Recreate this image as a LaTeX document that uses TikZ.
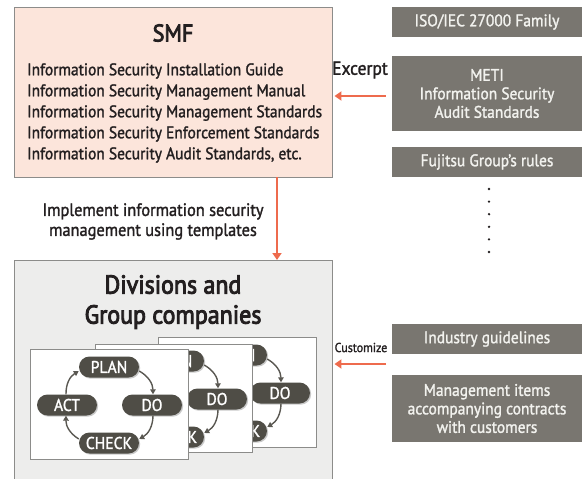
\documentclass[tikz,border=0pt]{standalone}
\usepackage{fontspec}
\setmainfont{PT Sans}[FakeStretch=0.92, FakeBold=1.5]
\newfontfamily\headfont{PT Sans}[FakeStretch=0.92, FakeBold=3.5]
\usetikzlibrary{arrows.meta,shadows}
\definecolor{smffill}{HTML}{FCE5DB}
\definecolor{divfill}{HTML}{EDEDEC}
\definecolor{framec}{HTML}{8C8C8A}
\definecolor{srcfill}{HTML}{797670}
\definecolor{srctext}{HTML}{F2F2EE}
\definecolor{pillc}{HTML}{4F4D46}
\definecolor{cycc}{HTML}{5A5852}
\definecolor{arrc}{HTML}{EE6B4D}
\definecolor{inkc}{HTML}{231F20}
\tikzset{
  panel/.style={draw=framec, line width=0.9pt},
  source/.style={fill=srcfill, text=srctext, inner sep=0pt, align=center,
    minimum width=190pt, font=\fontsize{16.8}{18.5}\selectfont},
  card/.style={draw=framec, fill=white, line width=0.9pt},
  pill/.style={fill=pillc, text=white, rounded corners=10.5pt, inner sep=0pt,
    minimum width=60pt, minimum height=21pt, font=\fontsize{17}{17}\selectfont,
    drop shadow={shadow xshift=1.2pt, shadow yshift=-1.2pt, fill=black!35, opacity=0.6}},
  cyc/.style={draw=cycc, line width=1.4pt, -{Triangle[length=5pt,width=5.5pt]}},
  arr/.style={draw=arrc, line width=2.6pt, -{Triangle[length=7pt,width=9pt]}},
  body/.style={text=inkc, inner sep=0pt}
}
% PLAN, DO and CHECK steps of one cycle card, shifted by (#2,#3)
\newcommand\pdcaset[3]{%
  \begin{scope}[shift={(#2,#3)}]
    \node[pill] (#1plan) at (109,367) {PLAN};
    \node[pill] (#1do) at (152,405) {DO};
    \node[pill] (#1check) at (109,443) {CHECK};
    \draw[cyc] ([yshift=-4pt]#1plan.east) to[bend left=30] ([xshift=1pt]#1do.north);
    \draw[cyc] ([xshift=1pt]#1do.south) to[bend left=30] ([yshift=4pt]#1check.east);
  \end{scope}}
\begin{document}
\begin{tikzpicture}[x=1pt, y=-1pt]
\useasboundingbox (0,0) rectangle (582,479);
\clip (0,0) rectangle (582,479);

% SMF panel
\node[panel, fill=smffill, minimum width=318pt, minimum height=170pt, inner sep=0pt] (smf) at (173,92) {};
\node[body, font=\headfont\fontsize{24}{24}\selectfont] (smftitle) at (173,33) {SMF};
\node[body, anchor=west, align=left, font=\fontsize{16.8}{21}\selectfont] (smflist) at (27,113)
  {Information Security Installation Guide\\
   Information Security Management Manual\\
   Information Security Management Standards\\
   Information Security Enforcement Standards\\
   Information Security Audit Standards, etc.};

% Divisions panel
\node[panel, fill=divfill, minimum width=318pt, minimum height=240pt, inner sep=0pt, anchor=north] (div) at (173,260) {};
\node[body, align=center, font=\headfont\fontsize{26}{30}\selectfont] (divtitle) at (173,302)
  {Divisions and\\Group companies};

% stacked PDCA cards, back to front
\node[card, minimum width=158pt, minimum height=110pt, anchor=north west] (cardc) at (158,337) {};
\pdcaset{c}{128}{-12}
\node[card, minimum width=157pt, minimum height=108pt, anchor=north west] (cardb) at (95,344) {};
\pdcaset{b}{65}{-6}
\node[card, minimum width=158pt, minimum height=110pt, anchor=north west] (carda) at (30,349) {};
\pdcaset{a}{0}{0}
\node[pill] (aact) at (67,405) {ACT};
\draw[cyc] ([yshift=4pt]acheck.west) to[bend left=30] ([xshift=-1pt]aact.south);
\draw[cyc] ([xshift=-1pt]aact.north) to[bend left=30] ([yshift=-4pt]aplan.west);

% source documents
\node[source, minimum height=30pt] (iso) at (487,22) {ISO/IEC 27000 Family};
\node[source, minimum height=75pt] (meti) at (487,93.5) {METI\\Information Security\\Audit Standards};
\node[source, minimum height=30pt] (fuji) at (487,162) {Fujitsu Group’s rules};
\node[source, minimum height=30pt] (ind) at (487,339) {Industry guidelines};
\node[source, minimum height=67pt] (mgmt) at (487,408.5) {Management items\\accompanying contracts\\with customers};

% continuation dots
\foreach \k in {0,...,5}
  \fill[inkc] (489,189+12.6*\k) circle (1.3pt);

% flows
\draw[arr] ([xshift=104pt]smf.south) -- ([xshift=104pt]div.north);
\node[body, align=center, font=\fontsize{17.8}{20}\selectfont] (impl) at (153,221.5)
  {Implement information security\\management using templates};
\draw[arr] ([xshift=-6pt,yshift=-2.5pt]meti.west) -- ([xshift=2pt,yshift=-2.5pt]meti.west -| smf.east);
\node[body, font=\fontsize{19}{19}\selectfont] (excerpt) at (360,70) {Excerpt};
\coordinate (custsrc) at (386,364);
\draw[arr] (custsrc) -- ([xshift=2pt]custsrc -| div.east);
\node[body, font=\fontsize{13}{13}\selectfont] (customize) at (361,347.5) {Customize};
\end{tikzpicture}
\end{document}
